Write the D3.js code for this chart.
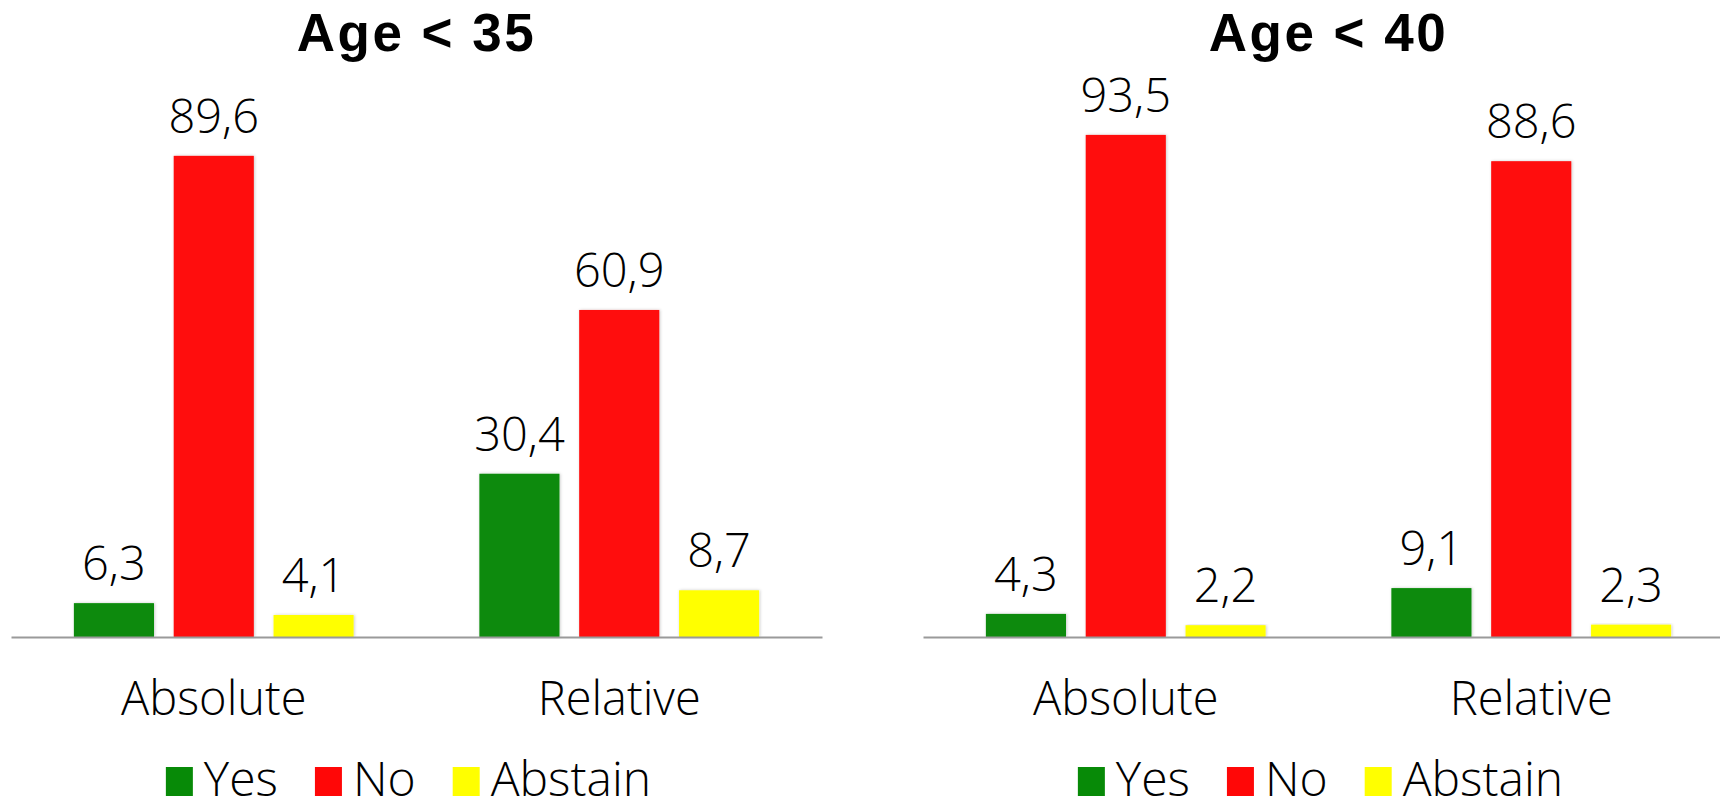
<!DOCTYPE html>
<html>
<head>
<meta charset="utf-8">
<script src="https://cdn.jsdelivr.net/npm/d3@7"></script>
<style>
  html, body { margin: 0; padding: 0; background: #ffffff; }
  svg { display: block; }
  text { font-family: "Open Sans", "Liberation Sans", sans-serif; fill: #000; }
</style>
</head>
<body>
<svg id="chart" width="1720" height="798"></svg>
<script>
// Survey results: share of votes (%) by age cut-off and majority type
const panelTitles = ["Age < 35", "Age < 40"];
const categories = ["Absolute", "Relative"];
const seriesNames = ["Yes", "No", "Abstain"];
const seriesColors = ["#078a07", "#ff0707", "#ffff00"];

// Values per panel: one array per series, indexed by category
const under35Yes = [6.3, 30.4];
const under35No = [89.6, 60.9];
const under35Abstain = [4.1, 8.7];
const under40Yes = [4.3, 9.1];
const under40No = [93.5, 88.6];
const under40Abstain = [2.2, 2.3];

const panels = [
  { title: panelTitles[0], values: [under35Yes, under35No, under35Abstain], range: [11, 822] },
  { title: panelTitles[1], values: [under40Yes, under40No, under40Abstain], range: [923, 1734] }
];

const svg = d3.select("#chart");
const baseY = 637;

const defs = svg.append("defs");
defs.append("filter")
  .attr("id", "barShadow")
  .attr("x", "-10%").attr("y", "-10%").attr("width", "120%").attr("height", "120%")
  .append("feDropShadow")
  .attr("dx", 0.8).attr("dy", 0).attr("stdDeviation", 1.4)
  .attr("flood-color", "#000").attr("flood-opacity", 0.22);

const y = d3.scaleLinear().domain([0, 100]).range([baseY, 100]);

panels.forEach(panel => {
  const g = svg.append("g");

  const x0 = d3.scaleBand().domain(categories).range(panel.range).paddingInner(0).paddingOuter(0);
  const x1 = d3.scaleBand().domain(seriesNames).range([0, x0.bandwidth()])
    .paddingInner(0.198).paddingOuter(0.63);

  const mid = (panel.range[0] + panel.range[1]) / 2;

  // Title
  g.append("text")
    .attr("x", mid)
    .attr("y", 51)
    .attr("text-anchor", "middle")
    .style("font-family", "'Liberation Sans', Arial, sans-serif")
    .style("font-size", "53px")
    .style("font-weight", 700)
    .style("letter-spacing", "2.5px")
    .text(panel.title);

  // Bars and value labels
  const rows = [];
  categories.forEach((c, ci) => {
    seriesNames.forEach((s, si) => {
      rows.push({ cat: c, series: s, color: seriesColors[si], value: panel.values[si][ci] });
    });
  });

  g.selectAll("rect.bar")
    .data(rows)
    .join("rect")
    .attr("class", "bar")
    .attr("x", d => x0(d.cat) + x1(d.series))
    .attr("y", d => y(d.value))
    .attr("width", x1.bandwidth())
    .attr("height", d => y(0) - y(d.value))
    .attr("fill", d => d.color)
    .attr("filter", "url(#barShadow)");

  g.selectAll("text.val")
    .data(rows)
    .join("text")
    .attr("class", "val")
    .attr("x", d => x0(d.cat) + x1(d.series) + x1.bandwidth() / 2)
    .attr("y", d => y(d.value) - 23)
    .attr("text-anchor", "middle")
    .style("font-size", "47px")
    .style("font-weight", 300)
    .text(d => d3.format(".1f")(d.value).replace(".", ","));

  // Category axis
  const axis = g.append("g")
    .attr("transform", `translate(0,${baseY})`)
    .call(d3.axisBottom(x0).tickSize(0).tickSizeOuter(0));
  axis.select(".domain").attr("stroke", "#9a9a9a").attr("stroke-width", 2);
  axis.selectAll(".tick text")
    .attr("y", 78)
    .attr("dy", null)
    .style("font-family", "'Open Sans', 'Liberation Sans', sans-serif")
    .style("font-size", "47px")
    .style("font-weight", 300)
    .attr("fill", "#000");

  // Legend
  const legend = g.append("g");
  let cx = 0;
  seriesNames.forEach((s, i) => {
    const item = legend.append("g").attr("transform", `translate(${cx},0)`);
    item.append("rect")
      .attr("x", 0).attr("y", 767)
      .attr("width", 27).attr("height", 29)
      .attr("fill", seriesColors[i]);
    const t = item.append("text")
      .attr("x", 38).attr("y", 796)
      .style("font-size", "48px")
      .style("font-weight", 300)
      .text(s);
    cx += 38 + t.node().getComputedTextLength() + 37;
  });
  const legendWidth = cx - 37;
  legend.attr("transform", `translate(${mid - 8 - legendWidth / 2},0)`);
});
</script>
</body>
</html>
